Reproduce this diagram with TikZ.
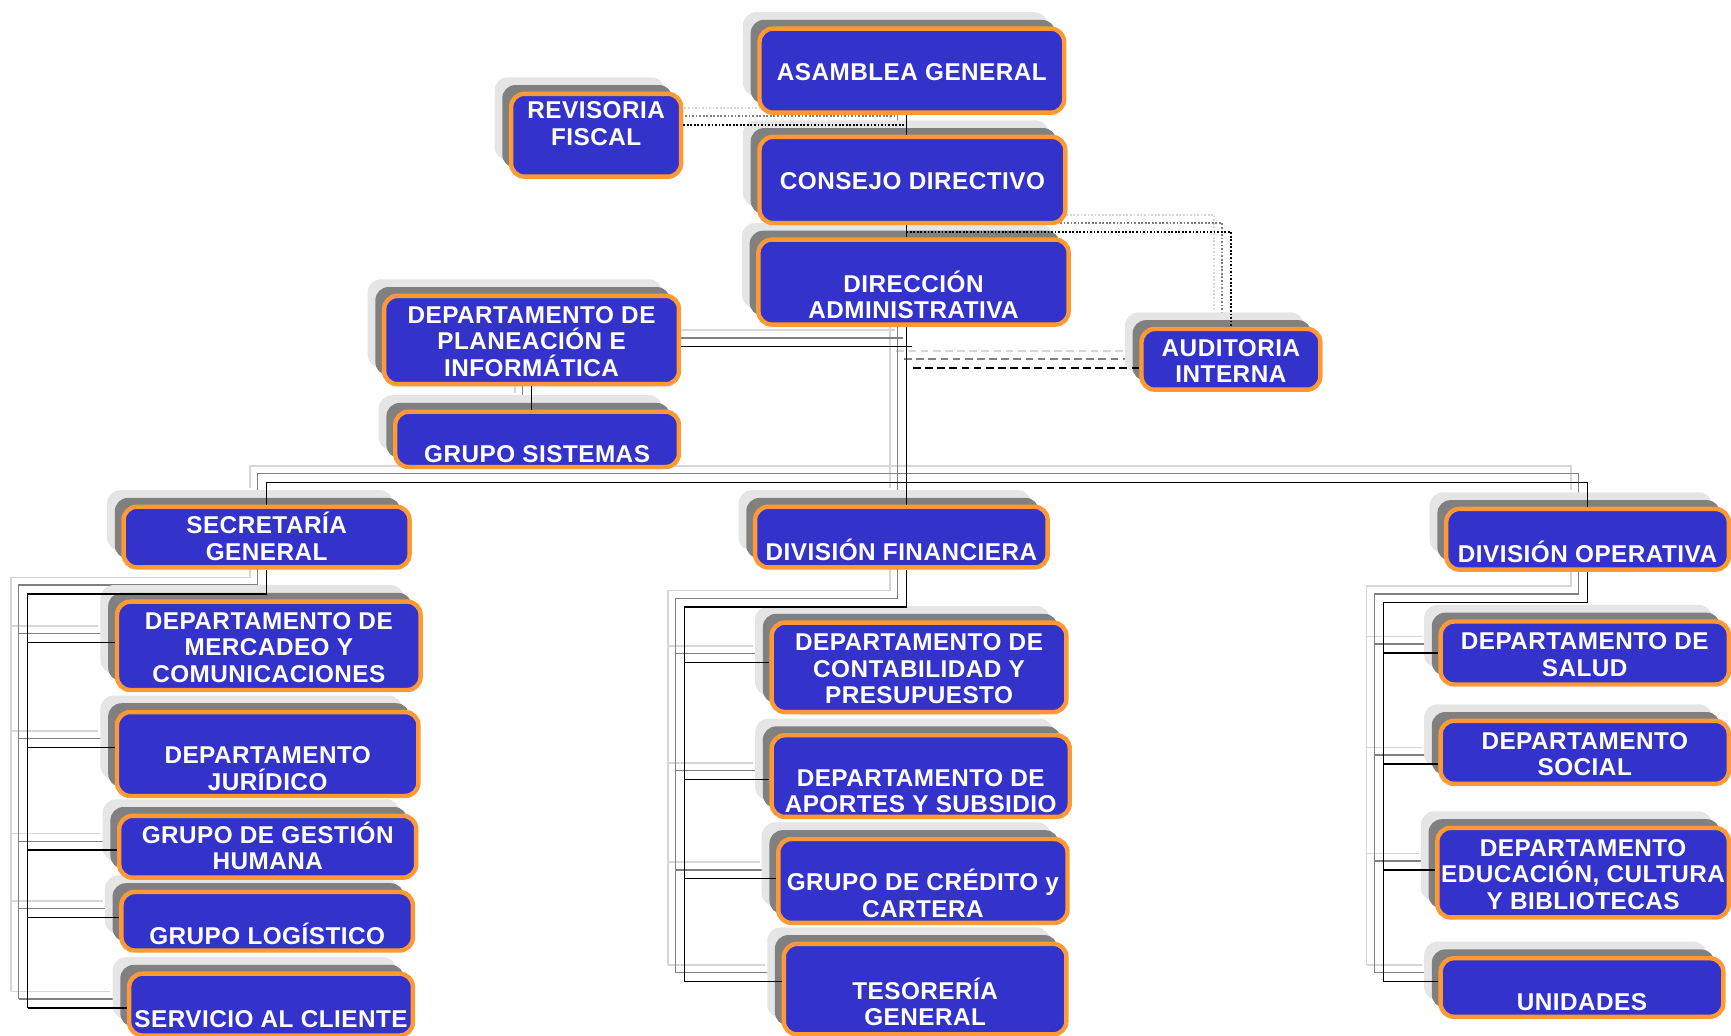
\documentclass[tikz,border=0pt]{standalone}
\usepackage{fontspec}
\setmainfont{Liberation Sans}[LetterSpace=2.0]
\usepackage{xcolor}
\usepackage{tikz}
\usetikzlibrary{shadows}

\definecolor{orgblue}{RGB}{51,51,204}
\definecolor{orgorange}{RGB}{255,153,51}
\definecolor{shadedark}{RGB}{128,128,128}
\definecolor{shadelight}{RGB}{229,229,229}
\definecolor{ghostdark}{RGB}{128,128,128}
\definecolor{ghostlight}{RGB}{214,214,214}

\pgfdeclarelayer{ghost}
\pgfsetlayers{ghost,main}

% box lettering, and a strut for the first and last line
\newcommand{\boxfont}{\fontsize{22}{24}\selectfont\bfseries\lineskiplimit=-30pt\relax}
\newcommand{\rowstrut}{\rule[-3pt]{0pt}{24pt}}

% all connectors, in the colour given
\newcommand{\orgwires}[1]{%
  \draw[wire,#1] (asamblea.south -| spine) -- (consejo.north -| spine);
  \draw[wire,#1] (consejo.south -| spine) -- (direccion.north -| spine);
  \draw[wire,#1] (direccion.south -| spine) -- (divfin.north -| spine);
  \draw[wire,dotwire,#1] (revisoria.east |- j1) -- (j1);
  \draw[wire,dotwire,#1] (j2) -| (auditoria.north);
  \draw[wire,#1] (planeacion.east |- j3) -- (j3);
  \draw[wire,dashwire,#1] (j4) -- (j4 -| auditoria.west);
  \draw[wire,#1] (planeacion.south) -- (planeacion.south |- sistemas.north);
  \draw[wire,#1] (secretaria.north) |- (bus) -| (divop.north);
  % three columns: trunk, then one branch per box
  \draw[wire,#1] (secretaria.south) |- (ltop) -- (lbot);
  \foreach \n/\d in {mercadeo/3,juridico/6,humana/-3,logistico/3.5,servicio/-3}{
    \path ([yshift=\d pt]\n.west) coordinate (b);
    \draw[wire,#1] (ltop |- b) -- (b);}
  \draw[wire,#1] (divfin.south -| spine) |- (mtop) -- (mbot);
  \foreach \n/\d in {contab/4.5,aportes/-3,credito/2,tesoreria/7}{
    \path ([yshift=\d pt]\n.west) coordinate (b);
    \draw[wire,#1] (mtop |- b) -- (b);}
  \draw[wire,#1] (divop.south) |- (rtop) -- (rbot);
  \foreach \n/\d in {salud/0,social/-10.5,educacion/2.5,unidades/5.5}{
    \path ([yshift=\d pt]\n.west) coordinate (b);
    \draw[wire,#1] (rtop |- b) -- (b);}
}

\begin{document}
\begin{tikzpicture}[
  x=1pt, y=-1pt,
  box/.style={draw=orgorange, line width=4pt, fill=orgblue, rounded corners=12pt,
    text=white, font=\boxfont, align=center,
    inner xsep=2pt, inner ysep=1pt,
    drop shadow={shadow xshift=-15pt, shadow yshift=15pt, fill=shadelight, opacity=1},
    drop shadow={shadow xshift=-8pt, shadow yshift=8pt, fill=shadedark, opacity=1}},
  wire/.style={draw=black, line width=1.3pt},
  dotwire/.style={line width=1.6pt, dash pattern=on 1.6pt off 1.6pt},
  dashwire/.style={line width=1.6pt, dash pattern=on 7pt off 4pt}]
\useasboundingbox (0,0) rectangle (1568,938);
\clip (0,0) rectangle (1568,938);

% top of the chart
\node[box, minimum width=276, minimum height=76] (asamblea) at (826,64) {\rowstrut ASAMBLEA GENERAL\rowstrut};
\node[box, minimum width=154, minimum height=75] (revisoria) at (540,122.5) {\rowstrut REVISORIA\\FISCAL\\\rowstrut};
\node[box, minimum width=281, minimum height=77] (direccion) at (827.5,255.5) {\rowstrut\\DIRECCIÓN\\ADMINISTRATIVA\rowstrut};
\node[box, minimum width=277, minimum height=78] (consejo) at (826.5,163) {\rowstrut CONSEJO DIRECTIVO\rowstrut};
\node[box, minimum width=162, minimum height=55] (auditoria) at (1115,325.5) {\rowstrut AUDITORIA\\INTERNA\rowstrut};
\node[box, minimum width=257, minimum height=50] (sistemas) at (486.5,398) {\rowstrut\\GRUPO SISTEMAS\rowstrut};
\node[box, minimum width=267, minimum height=80] (planeacion) at (481.5,308) {\rowstrut DEPARTAMENTO DE\\PLANEACIÓN E\\INFORMÁTICA\rowstrut};

% divisions
\node[box, minimum width=259, minimum height=55] (secretaria) at (241.5,486.5) {\rowstrut SECRETARÍA\\GENERAL\rowstrut};
\node[box, minimum width=265, minimum height=55] (divfin) at (816.5,486.5) {\rowstrut\\DIVISIÓN FINANCIERA\rowstrut};
\node[box, minimum width=256, minimum height=55] (divop) at (1438,488.5) {\rowstrut\\DIVISIÓN OPERATIVA\rowstrut};

% left column
\node[box, minimum width=257, minimum height=56] (servicio) at (245.5,910) {\rowstrut\\SERVICIO AL CLIENTE\rowstrut};
\node[box, minimum width=264, minimum height=53] (logistico) at (242,834.5) {\rowstrut\\GRUPO LOGÍSTICO\rowstrut};
\node[box, minimum width=269, minimum height=56] (humana) at (242.5,767) {\rowstrut GRUPO DE GESTIÓN\\HUMANA\rowstrut};
\node[box, minimum width=273, minimum height=76] (juridico) at (242.5,683) {\rowstrut\\DEPARTAMENTO\\JURÍDICO\rowstrut};
\node[box, minimum width=275, minimum height=80] (mercadeo) at (243.5,585) {\rowstrut DEPARTAMENTO DE\\MERCADEO Y\\COMUNICACIONES\rowstrut};

% middle column
\node[box, minimum width=256, minimum height=82] (tesoreria) at (838,896) {\rowstrut\\TESORERÍA\\GENERAL\rowstrut};
\node[box, minimum width=262, minimum height=76] (credito) at (836,798) {\rowstrut\\GRUPO DE CRÉDITO y\\CARTERA\rowstrut};
\node[box, minimum width=270, minimum height=74] (aportes) at (834,703) {\rowstrut\\DEPARTAMENTO DE\\APORTES Y SUBSIDIO\rowstrut};
\node[box, minimum width=267, minimum height=81] (contab) at (832.5,604.5) {\rowstrut DEPARTAMENTO DE\\CONTABILIDAD Y\\PRESUPUESTO\rowstrut};

% right column
\node[box, minimum width=256, minimum height=53] (unidades) at (1433,894.5) {\rowstrut\\UNIDADES\rowstrut};
\node[box, minimum width=264, minimum height=81] (educacion) at (1434,790.5) {\rowstrut DEPARTAMENTO\\EDUCACIÓN, CULTURA\\Y BIBLIOTECAS\rowstrut};
\node[box, minimum width=261, minimum height=57] (social) at (1435.5,681.5) {\rowstrut DEPARTAMENTO\\SOCIAL\rowstrut};
\node[box, minimum width=261, minimum height=57] (salud) at (1435.5,591.5) {\rowstrut DEPARTAMENTO DE\\SALUD\rowstrut};

% junctions
\coordinate (spine) at (821,0);
\coordinate (j1) at (821,113);
\coordinate (j2) at (821,210);
\coordinate (j3) at (826,314);
\coordinate (j4) at (827,333);
\coordinate (bus) at (821,437);
\coordinate (ltop) at (25,538);
\coordinate (lbot) at (25,913);
\coordinate (mtop) at (620,550);
\coordinate (mbot) at (620,889);
\coordinate (rtop) at (1253,546);
\coordinate (rbot) at (1253,889);

% faded copies behind, then the black lines
\begin{pgfonlayer}{ghost}
  \begin{scope}[transform canvas={shift={(-15,-15)}}]
    \orgwires{draw=ghostlight}
  \end{scope}
  \begin{scope}[transform canvas={shift={(-8,-8)}}]
    \orgwires{draw=ghostdark}
  \end{scope}
\end{pgfonlayer}
\orgwires{}
\end{tikzpicture}
\end{document}
